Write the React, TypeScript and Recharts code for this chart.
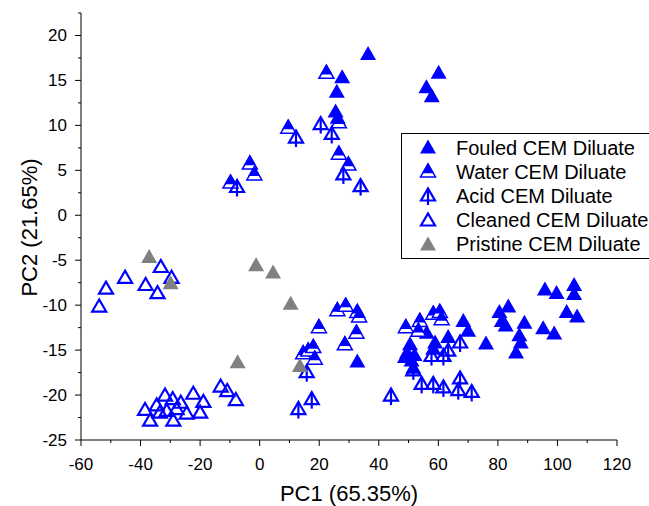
import React from 'react';
import { ScatterChart, Scatter, XAxis, YAxis, Legend } from 'recharts';

const BLUE = '#0000ff';
const GRAY = '#808080';
const FONT = '"Liberation Sans", Arial, Helvetica, sans-serif';

const xTicks = [-60, -50, -40, -30, -20, -10, 0, 10, 20, 30, 40, 50, 60, 70, 80, 90, 100, 110, 120];
const yTicks = [-25, -22.5, -20, -17.5, -15, -12.5, -10, -7.5, -5, -2.5, 0, 2.5, 5, 7.5, 10, 12.5, 15, 17.5, 20, 22.5];

const fouled = [
  { x: 36.4, y: 18.0 }, { x: 27.7, y: 15.4 }, { x: 25.9, y: 13.8 }, { x: 25.5, y: 11.6 }, { x: 26.2, y: 10.9 },
  { x: 60.1, y: 15.9 }, { x: 56.0, y: 14.3 }, { x: 57.8, y: 13.3 },
  { x: 32.8, y: -16.2 }, { x: 68.4, y: -11.7 }, { x: 70.0, y: -12.8 }, { x: 56.1, y: -13.0 },
  { x: 50.5, y: -14.3 }, { x: 49.5, y: -15.2 }, { x: 48.8, y: -15.7 }, { x: 51.0, y: -16.1 }, { x: 51.6, y: -16.9 },
  { x: 52.0, y: -15.5 }, { x: 58.9, y: -14.1 }, { x: 63.3, y: -13.5 }, { x: 58.3, y: -14.8 },
  { x: 95.8, y: -8.2 }, { x: 99.7, y: -8.6 }, { x: 105.6, y: -7.7 }, { x: 105.6, y: -8.7 },
  { x: 103.1, y: -10.7 }, { x: 106.6, y: -11.2 }, { x: 95.2, y: -12.5 }, { x: 98.9, y: -13.1 },
  { x: 80.5, y: -10.7 }, { x: 83.5, y: -10.1 }, { x: 81.3, y: -11.7 }, { x: 82.6, y: -12.2 },
  { x: 88.9, y: -11.9 }, { x: 87.2, y: -13.3 }, { x: 87.7, y: -14.1 }, { x: 86.1, y: -15.2 }, { x: 76.0, y: -14.2 },
];

const water = [
  { x: 22.4, y: 15.9 }, { x: 26.6, y: 10.4 }, { x: 9.6, y: 9.8 }, { x: 26.6, y: 6.9 }, { x: 29.8, y: 5.7 },
  { x: -3.3, y: 5.8 }, { x: -1.8, y: 4.6 }, { x: -9.8, y: 3.7 },
  { x: 26.1, y: -10.5 }, { x: 28.9, y: -10.0 }, { x: 32.8, y: -10.7 }, { x: 33.4, y: -11.2 },
  { x: 19.9, y: -12.4 }, { x: 32.5, y: -13.0 }, { x: 28.6, y: -14.3 },
  { x: 14.6, y: -15.3 }, { x: 16.3, y: -15.0 }, { x: 18.0, y: -14.6 }, { x: 18.5, y: -15.9 },
  { x: 49.1, y: -12.4 }, { x: 53.8, y: -11.7 }, { x: 58.3, y: -10.9 }, { x: 60.5, y: -10.7 },
  { x: 61.1, y: -11.5 }, { x: 53.3, y: -12.8 },
];

const acid = [
  { x: 12.2, y: 8.7 }, { x: 20.5, y: 10.2 }, { x: 24.2, y: 9.1 }, { x: 28.1, y: 4.6 }, { x: 33.9, y: 3.3 },
  { x: -7.6, y: 3.2 },
  { x: 15.8, y: -17.4 }, { x: 17.5, y: -20.4 }, { x: 13.0, y: -21.5 }, { x: 44.1, y: -20.0 },
  { x: 67.3, y: -14.1 }, { x: 63.3, y: -15.0 }, { x: 57.7, y: -15.6 }, { x: 61.7, y: -15.6 },
  { x: 51.6, y: -17.2 }, { x: 54.4, y: -18.7 }, { x: 58.3, y: -18.7 }, { x: 61.7, y: -19.1 },
  { x: 67.3, y: -18.1 }, { x: 66.7, y: -19.4 }, { x: 71.2, y: -19.6 },
];

const cleaned = [
  { x: -33.2, y: -5.7 }, { x: -45.2, y: -6.9 }, { x: -51.6, y: -8.1 }, { x: -29.6, y: -6.9 },
  { x: -38.3, y: -7.7 }, { x: -34.3, y: -8.6 }, { x: -53.9, y: -10.1 },
  { x: -13.1, y: -19.0 }, { x: -10.9, y: -19.5 }, { x: -8.0, y: -20.5 },
  { x: -31.8, y: -20.0 }, { x: -22.3, y: -19.8 }, { x: -29.2, y: -20.4 }, { x: -18.9, y: -20.7 },
  { x: -34.6, y: -21.1 }, { x: -27.9, y: -21.5 }, { x: -31.2, y: -21.7 }, { x: -24.5, y: -22.0 },
  { x: -20.0, y: -21.9 }, { x: -29.0, y: -22.8 }, { x: -36.8, y: -22.8 }, { x: -33.5, y: -21.9 },
  { x: -38.5, y: -21.6 }, { x: -26.5, y: -20.8 },
];

const pristine = [
  { x: -37.1, y: -4.6 }, { x: -29.9, y: -7.5 }, { x: -1.2, y: -5.5 }, { x: 4.5, y: -6.3 },
  { x: 10.4, y: -9.8 }, { x: 13.5, y: -16.7 }, { x: -7.4, y: -16.3 },
];

type M = { cx: number; cy: number; color?: string };

const Solid = ({ cx, cy, color = BLUE }: M) => (
  <polygon points={`${cx},${cy - 7.5} ${cx - 8},${cy + 6.5} ${cx + 8},${cy + 6.5}`} fill={color} />
);

const Half = ({ cx, cy }: M) => (
  <g>
    <polygon points={`${cx},${cy - 7} ${cx - 7.5},${cy + 6} ${cx + 7.5},${cy + 6}`} fill="#fff" stroke={BLUE} strokeWidth={1.5} />
    <polygon points={`${cx},${cy - 7} ${cx - 4.8},${cy + 1.4} ${cx + 4.8},${cy + 1.4}`} fill={BLUE} stroke={BLUE} strokeWidth={1.5} />
  </g>
);

const Open = ({ cx, cy }: M) => (
  <polygon points={`${cx},${cy - 6.5} ${cx - 7},${cy + 5.5} ${cx + 7},${cy + 5.5}`} fill="none" stroke={BLUE} strokeWidth={2.2} />
);

const Arrow = ({ cx, cy }: M) => (
  <g>
    <polygon points={`${cx},${cy - 6.5} ${cx - 7},${cy + 5.5} ${cx + 7},${cy + 5.5}`} fill="none" stroke={BLUE} strokeWidth={2.2} />
    <line x1={cx} y1={cy - 6.5} x2={cx} y2={cy + 10} stroke={BLUE} strokeWidth={2.2} />
  </g>
);

const seriesList = [
  { name: 'Fouled CEM Diluate', data: fouled, Marker: Solid, color: BLUE },
  { name: 'Water CEM Diluate', data: water, Marker: Half, color: BLUE },
  { name: 'Acid CEM Diluate', data: acid, Marker: Arrow, color: BLUE },
  { name: 'Cleaned CEM Diluate', data: cleaned, Marker: Open, color: BLUE },
  { name: 'Pristine CEM Diluate', data: pristine, Marker: Solid, color: GRAY },
];

const XTick = (props: any) => {
  const { x, y, payload } = props;
  const major = payload.value % 20 === 0;
  return (
    <g>
      <line x1={x} y1={y} x2={x} y2={y + (major ? 6 : 3)} stroke="#000" />
      {major && (
        <text x={x} y={y + 30} textAnchor="middle" fontSize={17} fontFamily={FONT} fill="#000">
          {payload.value}
        </text>
      )}
    </g>
  );
};

const YTick = (props: any) => {
  const { x, y, payload } = props;
  const major = payload.value % 5 === 0;
  return (
    <g>
      <line x1={x} y1={y} x2={x - (major ? 6 : 3)} y2={y} stroke="#000" />
      {major && (
        <text x={x - 14} y={y} dy="0.35em" textAnchor="end" fontSize={17} fontFamily={FONT} fill="#000">
          {payload.value}
        </text>
      )}
    </g>
  );
};

const renderLegend = () => (
  <div
    style={{
      boxSizing: 'border-box',
      width: 270,
      height: 126,
      border: '1px solid #000',
      background: '#fff',
      paddingTop: 2,
      fontFamily: FONT,
      fontSize: 20,
      color: '#000',
    }}
  >
    {seriesList.map((s) => (
      <div key={s.name} style={{ display: 'flex', alignItems: 'center', height: 24.2 }}>
        <svg width={20} height={20} style={{ marginLeft: 16, marginRight: 18 }}>
          <s.Marker cx={10} cy={9} color={s.color} />
        </svg>
        <span>{s.name}</span>
      </div>
    ))}
  </div>
);

export default function App() {
  return (
    <div style={{ position: 'absolute', left: 0, top: 0, width: 649, height: 506, overflow: 'hidden', background: '#fff' }}>
      <ScatterChart width={649} height={506} margin={{ top: 13, right: 32, bottom: 0, left: 0 }}>
        <XAxis
          type="number"
          dataKey="x"
          domain={[-60, 120]}
          ticks={xTicks}
          interval={0}
          height={66}
          tickSize={0}
          tickMargin={0}
          tickLine={false}
          tick={<XTick />}
          axisLine={{ stroke: '#000' }}
          allowDataOverflow
          label={(p: any) => {
            const vb = p.viewBox;
            return (
              <text x={vb.x + vb.width / 2} y={vb.y + 61} textAnchor="middle" fontSize={22} fontFamily={FONT} fill="#000">
                PC1 (65.35%)
              </text>
            );
          }}
        />
        <XAxis xAxisId="top" orientation="top" type="number" domain={[-60, 120]} height={0} tick={false} tickLine={false} axisLine={{ stroke: '#000' }} />
        <YAxis
          type="number"
          dataKey="y"
          domain={[-25, 22.5]}
          ticks={yTicks}
          interval={0}
          width={81}
          tickSize={0}
          tickMargin={0}
          tickLine={false}
          tick={<YTick />}
          axisLine={{ stroke: '#000' }}
          allowDataOverflow
          label={(p: any) => {
            const vb = p.viewBox;
            const cy = vb.y + vb.height / 2 + 1;
            return (
              <text x={29} y={cy} transform={`rotate(-90, 29, ${cy})`} textAnchor="middle" dominantBaseline="central" fontSize={22} fontFamily={FONT} fill="#000">
                PC2 (21.65%)
              </text>
            );
          }}
        />
        <YAxis yAxisId="right" orientation="right" type="number" domain={[-25, 22.5]} width={0} tick={false} tickLine={false} axisLine={{ stroke: '#000' }} />
        {seriesList.map((s) => (
          <Scatter
            key={s.name}
            name={s.name}
            data={s.data}
            isAnimationActive={false}
            shape={(p: any) => <s.Marker cx={p.cx} cy={p.cy} color={s.color} />}
          />
        ))}
        <Legend
          layout="vertical"
          align="center"
          verticalAlign="middle"
          content={renderLegend}
          wrapperStyle={{ left: 401, top: 133, width: 270, height: 126 }}
        />
      </ScatterChart>
    </div>
  );
}
